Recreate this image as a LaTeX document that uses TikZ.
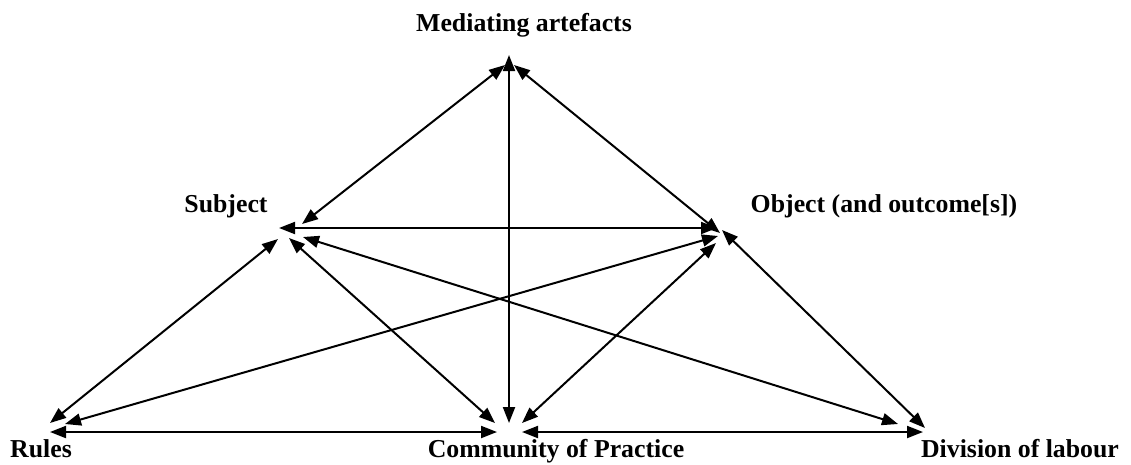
\documentclass[tikz,border=0pt]{standalone}
\usepackage{fontspec}
\setmainfont{Liberation Serif}
\usetikzlibrary{arrows.meta}
\begin{document}
\begin{tikzpicture}[x=1pt,y=-1pt,
  lbl/.style={font=\fontsize{25.8}{30}\selectfont\bfseries, inner sep=0pt, anchor=base},
  link/.style={line width=2pt, {Triangle[length=16pt,width=12pt]}-{Triangle[length=16pt,width=12pt]}}]
\useasboundingbox (0,0) rectangle (1131,464);
% labels
\node[lbl] (med) at (524,31) {Mediating artefacts};
\node[lbl] (subj) at (226,212) {Subject};
\node[lbl] (obj) at (884,212) {Object (and outcome[s])};
\node[lbl] (rules) at (41,457) {Rules};
\node[lbl] (comm) at (556,457) {Community of Practice};
\node[lbl] (div) at (1020,457) {Division of labour};
% endpoints
\coordinate (mV) at (509,55);
\coordinate (mL) at (505,65);
\coordinate (mR) at (514,65);
\coordinate (sM) at (302,224);
\coordinate (sH) at (279,228);
\coordinate (sR) at (278,239);
\coordinate (sC) at (289,238);
\coordinate (sD) at (303,237);
\coordinate (oM) at (720,233);
\coordinate (oH) at (717,228);
\coordinate (oR) at (718,236);
\coordinate (oC) at (716,243);
\coordinate (oD) at (722,230);
\coordinate (rS) at (50,423);
\coordinate (rO) at (65,424);
\coordinate (rH) at (50,432);
\coordinate (cV) at (509,423);
\coordinate (cS) at (495,423);
\coordinate (cO) at (522,423);
\coordinate (cL) at (497,432);
\coordinate (cR) at (522,432);
\coordinate (dS) at (898,424);
\coordinate (dO) at (925,428);
\coordinate (dH) at (923,432);
% connectors
\draw[link] (mV) -- (cV);
\draw[link] (mL) -- (sM);
\draw[link] (mR) -- (oM);
\draw[link] (sH) -- (oH);
\draw[link] (sR) -- (rS);
\draw[link] (sC) -- (cS);
\draw[link] (sD) -- (dS);
\draw[link] (oR) -- (rO);
\draw[link] (oC) -- (cO);
\draw[link] (oD) -- (dO);
\draw[link] (rH) -- (cL);
\draw[link] (cR) -- (dH);
\end{tikzpicture}
\end{document}
